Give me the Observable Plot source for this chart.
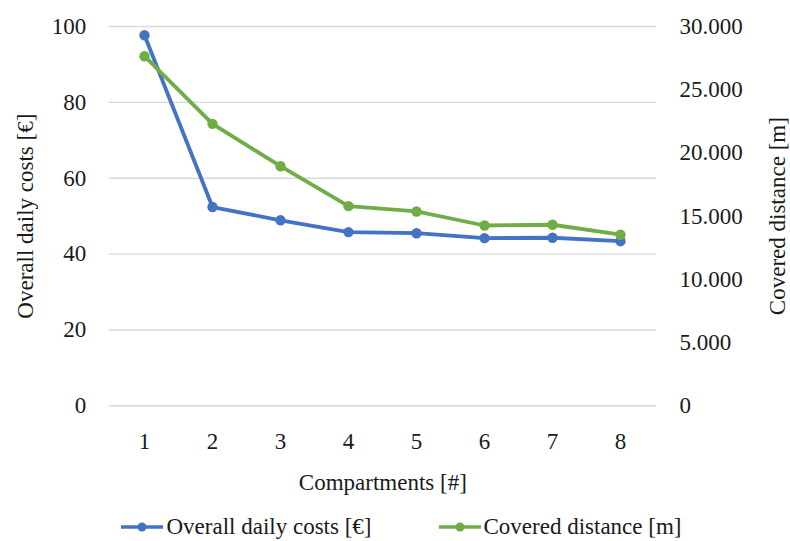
<!DOCTYPE html>
<html><head><meta charset="utf-8">
<script src="https://cdn.jsdelivr.net/npm/d3@7"></script>
<script src="https://cdn.jsdelivr.net/npm/@observablehq/plot@0.6"></script>
<style>
body{margin:0;background:#fff;font-family:"Liberation Serif","Tinos","Times New Roman","DejaVu Serif","Noto Serif",serif;color:#1a1a1a;}
#legend{display:flex;justify-content:center;align-items:center;gap:66px;height:44px;font-size:23px;padding-left:12px;}
.item{display:flex;align-items:center;}
.item svg{margin-right:2px;}
svg text{font-family:"Liberation Serif","Tinos","Times New Roman","DejaVu Serif","Noto Serif",serif;}
</style></head><body><div id="chart"></div><div id="legend"></div><script>
const compartments = [1, 2, 3, 4, 5, 6, 7, 8];
const dailyCosts = [97.7, 52.4, 48.9, 45.8, 45.5, 44.2, 44.3, 43.4];
const coveredDistance = [27650, 22300, 18950, 15790, 15370, 14260, 14320, 13530];
const leftTicks = [0, 20, 40, 60, 80, 100];
const rightTicks = [0, 5000, 10000, 15000, 20000, 25000, 30000];
const seriesNames = ["Overall daily costs [€]", "Covered distance [m]"];
const seriesColors = ["#4472c4", "#70ad47"];
const leftMax = 100, rightMax = 30000;
const ratio = leftMax / rightMax;

const rows = [];
compartments.forEach((c, i) => {
  rows.push({x: c, y: dailyCosts[i], s: seriesNames[0]});
  rows.push({x: c, y: coveredDistance[i] * ratio, s: seriesNames[1]});
});
const fmtDot = v => d3.format(",")(Math.round(v)).replace(/,/g, ".");
const serif = '"Liberation Serif","Tinos","Times New Roman","DejaVu Serif","Noto Serif",serif';

const chart = Plot.plot({
  width: 790,
  height: 505,
  marginLeft: 108.7,
  marginRight: 134,
  marginTop: 26,
  marginBottom: 99.7,
  style: {fontFamily: serif, fontSize: "23px", color: "#1a1a1a", background: "#fff"},
  x: {type: "point", domain: compartments, padding: 0.5},
  y: {domain: [0, leftMax]},
  color: {domain: seriesNames, range: seriesColors},
  marks: [
    Plot.gridY(leftTicks, {stroke: "#d9d9d9", strokeOpacity: 1, strokeWidth: 1.4}),
    Plot.axisY(leftTicks, {anchor: "left", tickSize: 0, tickPadding: 23, fontFamily: serif, label: "Overall daily costs [€]", labelAnchor: "center", labelArrow: "none", labelOffset: 93}),
    Plot.axisY(rightTicks.map(t => t * ratio), {anchor: "right", tickSize: 0, tickPadding: 23, fontFamily: serif, tickFormat: v => fmtDot(v / ratio), label: "Covered distance [m]", labelAnchor: "center", labelArrow: "none", labelOffset: 128}),
    Plot.axisX(compartments, {anchor: "bottom", tickSize: 0, tickPadding: 27, fontFamily: serif, label: "Compartments [#]", labelAnchor: "center", labelArrow: "none", labelOffset: 84}),
    Plot.line(rows, {x: "x", y: "y", z: "s", stroke: d => d.s, strokeWidth: 3.8}),
    Plot.dot(rows, {x: "x", y: "y", fill: d => d.s, r: 5.2})
  ]
});
document.getElementById("chart").appendChild(chart);

const legend = document.getElementById("legend");
seriesNames.forEach((n, i) => {
  const it = document.createElement("div");
  it.className = "item";
  it.innerHTML = `<svg width="44" height="12"><line x1="1" x2="43" y1="6" y2="6" stroke="${seriesColors[i]}" stroke-width="3.5"/><circle cx="22" cy="6" r="4.5" fill="${seriesColors[i]}"/></svg><span>${n}</span>`;
  legend.appendChild(it);
});
</script></body></html>
